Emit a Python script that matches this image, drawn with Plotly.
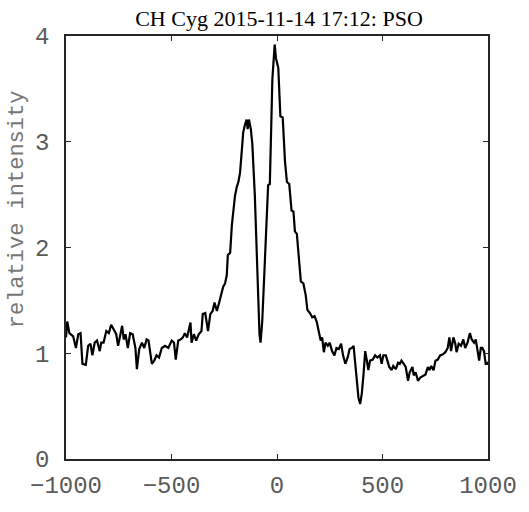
import plotly.graph_objects as go

velocity = [-1000, -994, -984, -966, -953, -942, -931, -922, -906, -895, -884, -875, -864, -853,
            -840, -833, -822, -809, -797, -786, -775, -762, -753, -743, -734, -726, -718, -707,
            -696, -684, -671, -664, -653, -640, -629, -618, -609, -593, -582, -571, -559, -546,
            -531, -515, -499, -488, -480, -468, -457, -446, -437, -426, -418, -410, -405, -394,
            -383, -371, -358, -352, -340, -327, -316, -305, -296, -285, -274, -264, -255, -246,
            -238, -233, -222, -214, -207, -199, -191, -183, -175, -167, -160, -152, -144, -139,
            -133, -124, -117, -105, -97, -89, -83, -78, -70, -61, -50, -42, -34, -30, -22, -11,
            -5, 6, 16, 27, 38, 47, 58, 69, 78, 85, 94, 105, 113, 125, 136, 144, 156, 167, 178,
            188, 199, 207, 214, 222, 230, 241, 250, 261, 272, 282, 293, 304, 313, 324, 335, 344,
            355, 363, 371, 379, 386, 394, 402, 410, 418, 426, 433, 441, 454, 465, 476, 488, 496,
            504, 516, 523, 532, 543, 551, 563, 574, 582, 590, 601, 610, 621, 629, 642, 648, 657,
            668, 679, 692, 704, 715, 723, 731, 742, 751, 762, 773, 786, 798, 809, 817, 825, 836,
            845, 851, 861, 872, 883, 892, 903, 914, 923, 934, 942, 951, 958, 966, 973, 981, 989,
            997, 1000]
intensity = [1.15, 1.30, 1.19, 1.16, 1.05, 1.18, 1.19, 0.90, 0.89, 1.07, 1.09, 0.98, 1.10, 1.12,
             1.02, 1.10, 1.10, 1.21, 1.19, 1.27, 1.23, 1.18, 1.07, 1.18, 1.26, 1.13, 1.18, 1.05,
             1.19, 1.18, 1.05, 0.85, 1.04, 1.10, 1.05, 1.13, 1.12, 0.90, 0.93, 0.98, 0.96, 1.05,
             1.07, 1.05, 1.12, 1.10, 0.94, 1.12, 1.13, 1.15, 1.19, 1.15, 1.23, 1.29, 1.10, 1.18,
             1.12, 1.18, 1.21, 1.37, 1.38, 1.21, 1.37, 1.40, 1.48, 1.40, 1.48, 1.55, 1.63, 1.66,
             1.74, 1.93, 1.95, 2.21, 2.34, 2.49, 2.57, 2.62, 2.71, 2.90, 3.09, 3.16, 3.21, 3.12,
             3.21, 3.12, 2.98, 2.49, 2.02, 1.55, 1.18, 1.10, 1.30, 1.71, 2.24, 2.59, 2.60, 2.96,
             3.59, 3.92, 3.79, 3.70, 3.24, 3.23, 2.81, 2.62, 2.60, 2.35, 2.34, 2.15, 2.13, 1.87,
             1.68, 1.66, 1.55, 1.41, 1.38, 1.34, 1.35, 1.30, 1.21, 1.12, 1.15, 1.01, 1.10, 1.07,
             1.10, 1.02, 0.98, 1.05, 1.04, 1.09, 0.98, 0.90, 0.96, 1.04, 1.05, 1.07, 0.90, 0.74,
             0.58, 0.52, 0.62, 0.80, 1.02, 0.93, 0.84, 0.93, 0.94, 0.98, 0.96, 0.98, 0.90, 0.98,
             0.98, 0.93, 0.87, 0.84, 0.88, 0.85, 0.91, 0.90, 0.93, 0.90, 0.87, 0.74, 0.82, 0.87,
             0.79, 0.82, 0.74, 0.77, 0.79, 0.80, 0.87, 0.84, 0.88, 0.84, 0.93, 0.94, 0.98, 0.99,
             1.01, 1.05, 1.15, 1.02, 1.15, 1.09, 1.01, 1.09, 1.07, 1.13, 1.05, 1.10, 1.19, 1.13,
             1.10, 1.13, 1.02, 0.93, 1.05, 1.05, 1.02, 0.90, 0.90, 0.92]

x_ticks = [-1000, -500, 0, 500, 1000]
y_ticks = [0, 1, 2, 3, 4]
title_text = "CH Cyg 2015-11-14 17:12: PSO"
y_label = "relative intensity"

fig = go.Figure()
fig.add_trace(go.Scatter(x=velocity, y=intensity, mode="lines",
                         line=dict(color="black", width=2.2), showlegend=False))

axis_common = dict(showline=True, linecolor="#262626", linewidth=1.5, mirror="ticks",
                   ticks="inside", ticklen=5, tickwidth=1.2, tickcolor="#262626",
                   showgrid=False, zeroline=False,
                   tickfont=dict(family="Liberation Mono", size=24, color="#5a5a5a"))

fig.update_xaxes(range=[-1000, 1000], tickvals=x_ticks,
                 ticktext=[f"\u2212{abs(v)}" if v < 0 else str(v) for v in x_ticks],
                 ticklabelstandoff=3, **axis_common)
fig.update_yaxes(range=[0, 4], tickvals=y_ticks, ticklabelstandoff=10, **axis_common)

fig.update_layout(
    width=529, height=512,
    margin=dict(l=66, r=37, t=36, b=50),
    plot_bgcolor="white", paper_bgcolor="white",
    title=dict(text=title_text, x=(66 + 492) / 2 / 529, xanchor="center",
               y=1 - 18 / 512, yanchor="middle", yref="container",
               font=dict(family="Liberation Serif", size=22, color="black")),
    annotations=[dict(text=y_label, textangle=-90, xref="paper", yref="paper",
                      x=-(66 - 17) / 426, y=(462 - 210) / 426, xanchor="center",
                      yanchor="middle", showarrow=False,
                      font=dict(family="Liberation Mono", size=22, color="#777777"))],
)

fig.write_html("out.html")
